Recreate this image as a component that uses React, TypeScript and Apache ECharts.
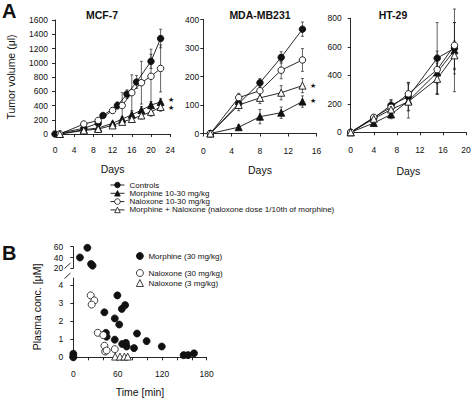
import React, { useEffect, useRef } from "react";
import * as echarts from "echarts";

const FONT = "'Liberation Sans', Arial, sans-serif";
const INK = "#111";

// ---------- Panel A data ----------
const seriesNames = [
  "Controls",
  "Morphine 10-30 mg/kg",
  "Naloxone 10-30 mg/kg",
  "Morphine + Naloxone (naloxone dose 1/10th of morphine)",
];

// MCF-7 [day, volume]
const mcfControls = [[0, 0], [6, 80], [9, 150], [10, 260], [13, 400], [15, 560], [17, 730], [20, 1020], [22, 1340]];
const mcfControlsErr = [0, 15, 20, 30, 50, 60, 90, 100, 130];
const mcfMorphine = [[1, 0], [6, 60], [9, 85], [12, 150], [14, 210], [16, 270], [18, 335], [20, 405], [22, 450]];
const mcfMorphineErr = [0, 10, 15, 20, 30, 40, 50, 50, 50];
const mcfNaloxone = [[1, 0], [6, 140], [9, 190], [12, 330], [14, 400], [16, 580], [18, 720], [20, 810], [22, 920]];
const mcfNaloxoneErr = [0, 20, 25, 40, 180, 250, 300, 380, 330];
const mcfCombo = [[1, 0], [6, 50], [9, 70], [12, 120], [14, 170], [16, 210], [18, 260], [20, 310], [22, 380]];
const mcfComboErr = [0, 10, 15, 20, 30, 40, 50, 60, 60];

// MDA-MB231
const mdaControls = [[1, 0], [5, 105], [8, 178], [11, 267], [14, 366]];
const mdaControlsErr = [0, 15, 15, 20, 25];
const mdaMorphine = [[1, 0], [5, 22], [8, 59], [11, 73], [14, 112]];
const mdaMorphineErr = [0, 8, 25, 20, 20];
const mdaNaloxone = [[1, 0], [5, 126], [8, 150], [11, 222], [14, 258]];
const mdaNaloxoneErr = [0, 15, 20, 30, 40];
const mdaCombo = [[1, 0], [5, 100], [8, 125], [11, 143], [14, 168]];
const mdaComboErr = [0, 20, 20, 25, 25];

// HT-29
const htControls = [[0, 0], [4, 100], [7, 190], [10, 250], [15, 520], [18, 590]];
const htControlsErr = [0, 15, 40, 100, 250, 180];
const htMorphine = [[0, 0], [4, 65], [7, 125], [10, 220], [15, 420], [18, 575]];
const htMorphineErr = [0, 10, 30, 120, 150, 290];
const htNaloxone = [[0, 0], [4, 105], [7, 175], [10, 270], [15, 440], [18, 610]];
const htNaloxoneErr = [0, 15, 50, 80, 100, 160];
const htCombo = [[0, 0], [4, 95], [7, 160], [10, 215], [15, 375], [18, 540]];
const htComboErr = [0, 10, 40, 60, 110, 100];

// ---------- Panel B data [time min, plasma conc µM] ----------
const bNames = ["Morphine (30 mg/kg)", "Naloxone (30 mg/kg)", "Naloxone (3 mg/kg)"];
const morphineHigh = [[9, 40], [19, 58], [24, 28], [26, 25]];
const morphineLow = [
  [0, 0.2], [0, 0.05], [0, 0], [42, 2.5], [44, 1.36], [45, 1.14], [56, 2.16], [56, 0.98],
  [59.5, 3.44], [62, 1.82], [65.5, 2.69], [70, 2.9], [66, 0.74], [71, 0.8], [72, 0.6],
  [82, 0.51], [86, 1.32], [99, 0.9], [119.5, 0.6], [149, 0.12], [155, 0.12], [163, 0.22],
];
const naloxone30 = [[23.5, 3.44], [28.4, 3.16], [24.8, 2.93], [33, 1.36], [40.5, 1.23], [42, 0.64], [43, 0.32], [45, 0.38], [56, 0.45]];
const naloxone3 = [[56.5, 0.04], [63, 0.04], [69, 0.04], [73.5, 0.04]];

const styles = [
  { symbol: "circle", fill: INK },
  { symbol: "triangle", fill: INK },
  { symbol: "circle", fill: "#fff" },
  { symbol: "triangle", fill: "#fff" },
];

function lineSeries(gi: number, idx: number, data: number[][]) {
  const s = styles[idx];
  return {
    type: "line",
    name: seriesNames[idx],
    xAxisIndex: gi,
    yAxisIndex: gi,
    data,
    symbol: s.symbol,
    symbolSize: s.symbol === "triangle" ? 7 : 6.5,
    showAllSymbol: true,
    z: 3,
    lineStyle: { color: INK, width: 0.9 },
    itemStyle: { color: s.fill, borderColor: INK, borderWidth: 0.9, opacity: 1 },
  };
}

function errSeries(gi: number, pts: number[][], errs: number[]) {
  return {
    type: "custom",
    xAxisIndex: gi,
    yAxisIndex: gi,
    z: 2,
    silent: true,
    data: pts.map((p, i) => [p[0], p[1], errs[i]]),
    encode: { x: 0, y: 1 },
    renderItem: (_params: any, api: any) => {
      const x = api.value(0);
      const y = api.value(1);
      const e = api.value(2);
      if (!e) return null;
      const a = api.coord([x, y + e]);
      const b = api.coord([x, y - e]);
      const c = 1.5;
      const st = { stroke: "#222", lineWidth: 0.7 };
      return {
        type: "group",
        children: [
          { type: "line", shape: { x1: a[0], y1: a[1], x2: b[0], y2: b[1] }, style: st },
          { type: "line", shape: { x1: a[0] - c, y1: a[1], x2: a[0] + c, y2: a[1] }, style: st },
          { type: "line", shape: { x1: b[0] - c, y1: b[1], x2: b[0] + c, y2: b[1] }, style: st },
        ],
      };
    },
  };
}

const axisLine = { show: true, lineStyle: { color: INK, width: 0.9 } };
const axisTick = { show: true, length: 3, lineStyle: { color: INK, width: 0.9 } };
const plain = (v: number) => String(v);
const labelStyle = { color: INK, fontSize: 8.5, fontFamily: FONT, formatter: plain };
const nameStyle = { color: INK, fontSize: 10.5, fontFamily: FONT };

function xAxisA(gi: number, max: number, offset: number, nameGap: number) {
  return {
    type: "value", gridIndex: gi, min: 0, max, interval: 4, offset,
    axisLine, axisTick, splitLine: { show: false },
    axisLabel: { ...labelStyle, margin: 5 },
    name: "Days", nameLocation: "middle", nameGap, nameTextStyle: nameStyle,
  };
}
function yAxisA(gi: number, max: number, interval: number, offset: number, withName: boolean) {
  return {
    type: "value", gridIndex: gi, min: 0, max, interval, offset,
    axisLine, axisTick, splitLine: { show: false },
    axisLabel: { ...labelStyle, margin: 4 },
    ...(withName
      ? { name: "Tumor volume (μl)", nameLocation: "middle", nameGap: 36, nameRotate: 90, nameTextStyle: nameStyle }
      : {}),
  };
}

const option: any = {
  animation: false,
  backgroundColor: "#fff",
  textStyle: { fontFamily: FONT },
  title: [
    { text: "MCF-7", left: 97, top: 4, textAlign: "center", textStyle: { fontSize: 10.5, fontWeight: "bold", color: INK, fontFamily: FONT } },
    { text: "MDA-MB231", left: 255, top: 4, textAlign: "center", textStyle: { fontSize: 10.5, fontWeight: "bold", color: INK, fontFamily: FONT } },
    { text: "HT-29", left: 388, top: 4, textAlign: "center", textStyle: { fontSize: 10.5, fontWeight: "bold", color: INK, fontFamily: FONT } },
  ],
  grid: [
    { left: 55, top: 20, width: 115.2, height: 114 },
    { left: 203.3, top: 19.5, width: 113.3, height: 114 },
    { left: 350.7, top: 18.3, width: 115.3, height: 114 },
    { left: 73.3, top: 246.7, width: 133.3, height: 21.6 },
    { left: 73.3, top: 278.1, width: 133.3, height: 79.2 },
  ],
  xAxis: [
    xAxisA(0, 24, 6, 23),
    xAxisA(1, 16, 8, 23),
    xAxisA(2, 20, 8, 25),
    { type: "value", gridIndex: 3, min: 0, max: 180, show: false },
    {
      type: "value", gridIndex: 4, min: 0, max: 180, interval: 60, offset: 7,
      axisLine, axisTick, minorTick: { show: true, splitNumber: 3, length: 3, lineStyle: { color: INK, width: 0.9 } },
      splitLine: { show: false }, minorSplitLine: { show: false },
      axisLabel: { ...labelStyle, margin: 5 },
      name: "Time [min]", nameLocation: "middle", nameGap: 22, nameTextStyle: nameStyle,
    },
  ],
  yAxis: [
    yAxisA(0, 1600, 200, 3, true),
    yAxisA(1, 400, 100, 0, false),
    yAxisA(2, 800, 200, 5, false),
    {
      type: "value", gridIndex: 3, min: 20, max: 60, interval: 20, offset: 6,
      axisLine, axisTick, splitLine: { show: false },
      axisLabel: { ...labelStyle, margin: 4 },
    },
    {
      type: "value", gridIndex: 4, min: 0, max: 4.4, offset: 6,
      axisLine,
      axisTick: { ...axisTick, customValues: [0, 1, 2, 3, 4] },
      splitLine: { show: false },
      axisLabel: { ...labelStyle, margin: 4, customValues: [0, 1, 2, 3, 4] },
    },
  ],
  legend: [
    {
      data: seriesNames, orient: "vertical", left: 110, top: 181, padding: 0,
      itemWidth: 14, itemHeight: 7, itemGap: 0.3, selectedMode: false,
      lineStyle: { width: 0.9 },
      itemStyle: { borderWidth: 0.8 },
      textStyle: { color: INK, fontSize: 8, fontFamily: FONT, lineHeight: 8 },
    },
    {
      data: [bNames[0]], orient: "vertical", left: 136, top: 252, padding: 0,
      itemWidth: 7, itemHeight: 7, selectedMode: false,
      itemStyle: { borderWidth: 0.8 },
      textStyle: { color: INK, fontSize: 8, fontFamily: FONT },
    },
    {
      data: [bNames[1], bNames[2]], orient: "vertical", left: 136, top: 269, padding: 0,
      itemWidth: 7, itemHeight: 7, itemGap: 2, selectedMode: false,
      itemStyle: { borderWidth: 0.8 },
      textStyle: { color: INK, fontSize: 8, fontFamily: FONT },
    },
  ],
  series: [
    errSeries(0, mcfControls, mcfControlsErr),
    errSeries(0, mcfMorphine, mcfMorphineErr),
    errSeries(0, mcfNaloxone, mcfNaloxoneErr),
    errSeries(0, mcfCombo, mcfComboErr),
    lineSeries(0, 0, mcfControls),
    lineSeries(0, 1, mcfMorphine),
    lineSeries(0, 2, mcfNaloxone),
    lineSeries(0, 3, mcfCombo),

    errSeries(1, mdaControls, mdaControlsErr),
    errSeries(1, mdaMorphine, mdaMorphineErr),
    errSeries(1, mdaNaloxone, mdaNaloxoneErr),
    errSeries(1, mdaCombo, mdaComboErr),
    lineSeries(1, 0, mdaControls),
    lineSeries(1, 1, mdaMorphine),
    lineSeries(1, 2, mdaNaloxone),
    lineSeries(1, 3, mdaCombo),

    errSeries(2, htControls, htControlsErr),
    errSeries(2, htMorphine, htMorphineErr),
    errSeries(2, htNaloxone, htNaloxoneErr),
    errSeries(2, htCombo, htComboErr),
    lineSeries(2, 0, htControls),
    lineSeries(2, 1, htMorphine),
    lineSeries(2, 2, htNaloxone),
    lineSeries(2, 3, htCombo),

    {
      type: "scatter", name: bNames[0], xAxisIndex: 3, yAxisIndex: 3, data: morphineHigh,
      symbol: "circle", symbolSize: 7, itemStyle: { color: INK, borderColor: INK, borderWidth: 0.8, opacity: 1 },
    },
    {
      type: "scatter", name: bNames[0], xAxisIndex: 4, yAxisIndex: 4, data: morphineLow,
      symbol: "circle", symbolSize: 7, itemStyle: { color: INK, borderColor: INK, borderWidth: 0.8, opacity: 1 },
    },
    {
      type: "scatter", name: bNames[1], xAxisIndex: 4, yAxisIndex: 4, data: naloxone30,
      symbol: "circle", symbolSize: 7, itemStyle: { color: "#fff", borderColor: INK, borderWidth: 0.8, opacity: 1 },
    },
    {
      type: "scatter", name: bNames[2], xAxisIndex: 4, yAxisIndex: 4, data: naloxone3,
      symbol: "triangle", symbolSize: 7, itemStyle: { color: "#fff", borderColor: INK, borderWidth: 0.8, opacity: 1 },
    },
  ],
  graphic: [
    { type: "text", left: 2, top: 1, style: { text: "A", fontSize: 20, fontWeight: "bold", fontFamily: FONT, fill: INK } },
    { type: "text", left: 2, top: 243, style: { text: "B", fontSize: 20, fontWeight: "bold", fontFamily: FONT, fill: INK } },
    { type: "text", x: 171, y: 99, style: { text: "★", fontSize: 7, fill: INK, align: "center", verticalAlign: "middle" } },
    { type: "text", x: 171, y: 107, style: { text: "★", fontSize: 7, fill: INK, align: "center", verticalAlign: "middle" } },
    { type: "text", x: 313, y: 85, style: { text: "★", fontSize: 7, fill: INK, align: "center", verticalAlign: "middle" } },
    { type: "text", x: 313, y: 100, style: { text: "★", fontSize: 7, fill: INK, align: "center", verticalAlign: "middle" } },
    {
      type: "text", x: 37, y: 307, rotation: Math.PI / 2,
      style: { text: "Plasma conc. [μM]", fontSize: 10.5, fontFamily: FONT, fill: INK, align: "center", verticalAlign: "middle" },
    },
    { type: "line", shape: { x1: 64.5, y1: 268.5, x2: 70.5, y2: 263 }, style: { stroke: INK, lineWidth: 0.9 } },
    { type: "line", shape: { x1: 64.5, y1: 278.5, x2: 70.5, y2: 273 }, style: { stroke: INK, lineWidth: 0.9 } },
  ],
};

export default function App() {
  const ref = useRef<HTMLDivElement>(null);
  useEffect(() => {
    if (!ref.current) return;
    const chart = echarts.init(ref.current, null, { renderer: "svg" });
    chart.setOption(option);
    return () => chart.dispose();
  }, []);
  return (
    <div
      ref={ref}
      style={{ position: "absolute", left: 0, top: 0, width: 474, height: 418, background: "#fff" }}
    />
  );
}
